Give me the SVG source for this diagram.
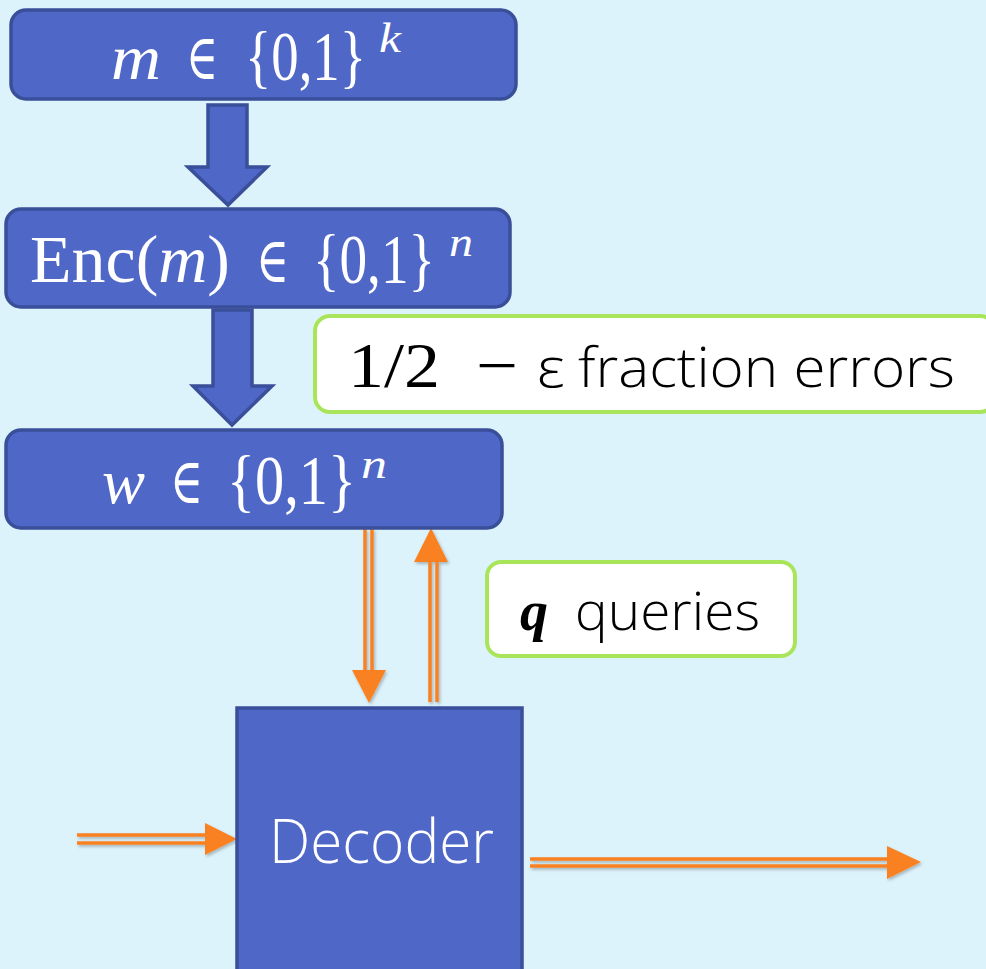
<svg xmlns="http://www.w3.org/2000/svg" width="986" height="969" viewBox="0 0 986 969">
<style>
.box{fill:#4F67C7;stroke:#3A4F99;stroke-width:3.5}
.call{fill:#FFFFFF;stroke:#A9E55A;stroke-width:4}
.m{font-family:"Liberation Serif","DejaVu Serif",serif;fill:#FFFFFF}
.mi{font-style:italic}
.sup{font-style:italic;font-size:42px}
.sans{font-family:"Open Sans","Noto Sans",sans-serif;font-weight:300}
.ol{stroke:#FA8120;stroke-width:3.5;fill:none}
.oh{fill:#FA8120}
</style>
<defs>
<filter id="sh" x="-10%" y="-10%" width="130%" height="130%">
<feDropShadow dx="1.5" dy="2" stdDeviation="1.5" flood-color="#000" flood-opacity="0.25"/>
</filter>
</defs>
<rect x="0" y="0" width="986" height="969" fill="#DDF3FB"/>

<g id="connectors">
<polygon class="box" points="208,105 247,105 247,167 267,167 228,205 188,167 208,167"/>
<polygon class="box" points="213,310 252,310 252,386 272,386 232,425 193,386 213,386"/>
<g filter="url(#sh)">
<line class="ol" x1="365" y1="529" x2="365" y2="672"/>
<line class="ol" x1="372" y1="529" x2="372" y2="672"/>
<polygon class="oh" points="352,670 386,670 369,703"/>
<line class="ol" x1="430" y1="702" x2="430" y2="560"/>
<line class="ol" x1="437" y1="702" x2="437" y2="560"/>
<polygon class="oh" points="414,562 448,562 431,528"/>
<line class="ol" x1="77" y1="835" x2="207" y2="835"/>
<line class="ol" x1="77" y1="843" x2="207" y2="843"/>
<polygon class="oh" points="205,823 205,855 237,839"/>
<line class="ol" x1="530" y1="859" x2="889" y2="859"/>
<line class="ol" x1="530" y1="866" x2="889" y2="866"/>
<polygon class="oh" points="887,846 887,879 921,862"/>
</g>
</g>

<g id="node-m">
<rect class="box" x="11" y="10" width="505" height="89" rx="15"/>
<text class="m mi" x="111" y="79" font-size="64" textLength="50" lengthAdjust="spacingAndGlyphs">m</text>
<text class="m" x="186" y="79" font-size="64" textLength="32" lengthAdjust="spacingAndGlyphs">∈</text>
<text class="m" y="80" font-size="70"><tspan x="245" textLength="121" lengthAdjust="spacingAndGlyphs">{0,1}</tspan><tspan class="sup" x="379" y="52" textLength="22" lengthAdjust="spacingAndGlyphs">k</tspan></text>
</g>

<g id="node-enc">
<rect class="box" x="6" y="209" width="504" height="98" rx="15"/>
<text class="m" x="30" y="282" font-size="68" textLength="200" lengthAdjust="spacingAndGlyphs">Enc(<tspan class="mi">m</tspan>)</text>
<text class="m" x="256" y="282" font-size="64" textLength="33" lengthAdjust="spacingAndGlyphs">∈</text>
<text class="m" y="283" font-size="70"><tspan x="313" textLength="122" lengthAdjust="spacingAndGlyphs">{0,1}</tspan><tspan class="sup" x="449" y="256" textLength="24" lengthAdjust="spacingAndGlyphs">n</tspan></text>
</g>

<g id="node-w">
<rect class="box" x="6" y="430" width="496" height="98" rx="15"/>
<text class="m mi" x="102" y="503" font-size="64" textLength="43" lengthAdjust="spacingAndGlyphs">w</text>
<text class="m" x="170" y="503" font-size="64" textLength="33" lengthAdjust="spacingAndGlyphs">∈</text>
<text class="m" y="504" font-size="70"><tspan x="227" textLength="129" lengthAdjust="spacingAndGlyphs">{0,1}</tspan><tspan class="sup" x="361" y="478" textLength="26" lengthAdjust="spacingAndGlyphs">n</tspan></text>
</g>

<g id="node-errors">
<rect class="call" x="315" y="316" width="680" height="96" rx="15"/>
<text x="348" y="387" font-family="Liberation Serif, DejaVu Serif, serif" font-size="64" fill="#000" textLength="92" lengthAdjust="spacingAndGlyphs">1/2</text>
<text x="476" y="387" font-family="Liberation Serif, DejaVu Serif, serif" font-size="64" fill="#000" textLength="42" lengthAdjust="spacingAndGlyphs">−</text>
<text class="sans" x="537" y="387" font-size="56" fill="#000" textLength="28" lengthAdjust="spacingAndGlyphs">ε</text>
<text class="sans" x="578" y="387" font-size="56" fill="#000" textLength="377" lengthAdjust="spacingAndGlyphs">fraction errors</text>
</g>

<g id="node-queries">
<rect class="call" x="487" y="562" width="308" height="94" rx="14"/>
<text x="520" y="630" font-family="Liberation Serif, DejaVu Serif, serif" font-style="italic" font-weight="bold" font-size="56" fill="#000">q</text>
<text class="sans" x="575" y="630" font-size="54" fill="#000" textLength="185" lengthAdjust="spacingAndGlyphs">queries</text>
</g>

<g id="node-decoder">
<rect class="box" x="237" y="708" width="285" height="275"/>
<text class="sans" x="269" y="863" font-size="60" fill="#FFFFFF" textLength="225" lengthAdjust="spacingAndGlyphs">Decoder</text>
</g>
</svg>
